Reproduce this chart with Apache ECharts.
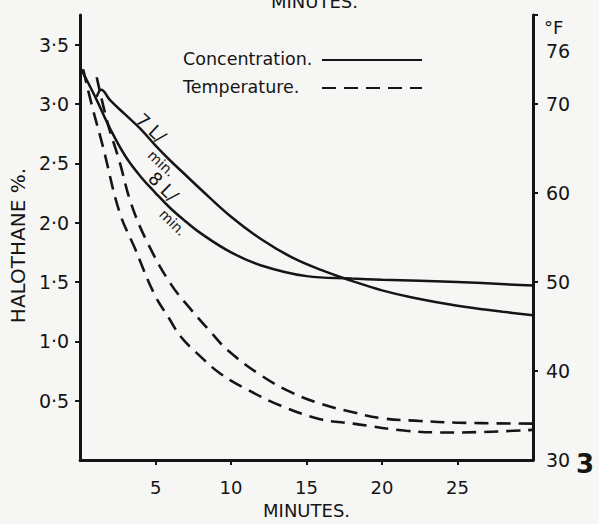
<!DOCTYPE html>
<html>
<head>
<meta charset="utf-8">
<script src="https://cdn.jsdelivr.net/npm/echarts@6/dist/echarts.min.js"></script>
<style>
  html, body { margin: 0; padding: 0; background: #f6f6f4; }
  #chart { width: 599px; height: 524px; }
</style>
</head>
<body>
<div id="chart"></div>
<script>
// halothane concentration, 7 L/min
var minutes7 = [1.1, 1.4, 2, 3, 4, 5, 6, 7, 8, 10, 12, 14, 16, 18, 20, 22, 25, 28, 30];
var halothane7 = [3.06, 3.12, 3.03, 2.91, 2.79, 2.65, 2.52, 2.40, 2.28, 2.05, 1.86, 1.71, 1.60, 1.51, 1.43, 1.37, 1.30, 1.25, 1.22];
// halothane concentration, 8 L/min
var minutes8 = [0, 1, 2, 3, 4, 5, 6, 7, 8, 10, 12, 15, 18, 20, 25, 30];
var halothane8 = [3.31, 3.06, 2.79, 2.56, 2.39, 2.25, 2.12, 2.01, 1.91, 1.75, 1.64, 1.55, 1.53, 1.52, 1.50, 1.47];
// temperature (deg F), upper dashed curve
var minutesTempA = [1.1, 1.8, 2.6, 3.4, 4.5, 6, 7.4, 8.7, 9.8, 12, 14, 16, 18, 20, 22.5, 25, 30];
var tempA = [73.0, 68.0, 63.6, 58.7, 54.3, 49.8, 46.8, 44.3, 42.3, 39.5, 37.6, 36.3, 35.4, 34.7, 34.4, 34.2, 34.1];
// temperature (deg F), lower dashed curve
var minutesTempB = [0.2, 0.8, 1.5, 2.6, 3.6, 4.9, 5.9, 6.7, 8, 9.3, 11.1, 13.3, 15.9, 18.1, 21.6, 24.7, 30];
var tempB = [73.9, 69.7, 65.3, 57.9, 53.9, 48.7, 45.9, 43.8, 41.6, 39.7, 37.9, 36.1, 34.6, 34.1, 33.3, 33.1, 33.4];

var xTicks = [5, 10, 15, 20, 25];
var leftTicks = [0.5, 1, 1.5, 2, 2.5, 3, 3.5];
var rightLabels = [30, 40, 50, 60, 70, 76];
var rightTicks = [40, 50, 60, 70, 80];
var legendNames = ['Concentration.', 'Temperature.'];

var ink = '#151515';
var font = 'DejaVu Sans';

var pairs = function (xs, ys) {
  var out = [];
  for (var i = 0; i < xs.length; i++) out.push([xs[i], ys[i]]);
  return out;
};

var myChart = echarts.init(document.getElementById('chart'), null, { renderer: 'svg' });
var solid = { color: ink, width: 2.5, type: 'solid' };
var dashed = { color: ink, width: 2.6, type: [14, 8] };

// "7 L/min." style note written along a curve
var flowLabel = function (num, x, y, rot) {
  return {
    type: 'group', x: x, y: y, rotation: rot,
    children: [{
      type: 'text', x: -30, y: 0,
      style: { text: num + ' L/', fontFamily: font, fontSize: 18, fill: ink, verticalAlign: 'middle' }
    }, {
      type: 'text', x: 3, y: 19,
      style: { text: 'min.', fontFamily: font, fontSize: 14, fill: ink, verticalAlign: 'middle' }
    }]
  };
};

var option = {
  backgroundColor: '#f6f6f4',
  animation: false,
  title: {
    text: 'MINUTES.',
    left: 266, top: -13,
    textStyle: { fontFamily: font, fontSize: 18, fontWeight: 'normal', color: ink }
  },
  legend: {
    orient: 'vertical',
    left: 321, top: 55, padding: 0,
    itemWidth: 100, itemHeight: 10, itemGap: 19,
    itemStyle: { opacity: 0 },
    formatter: function () { return ''; },
    data: legendNames
  },
  grid: { left: 79, right: 66, top: 15, bottom: 56 },
  xAxis: {
    type: 'value', min: 0, max: 30,
    name: 'MINUTES.', nameLocation: 'middle', nameGap: 38,
    nameTextStyle: { fontFamily: font, fontSize: 18, color: ink },
    axisLine: { lineStyle: { color: ink, width: 3 } },
    axisTick: { customValues: xTicks, length: 5, lineStyle: { color: ink, width: 2 } },
    axisLabel: { customValues: xTicks, margin: 18, fontFamily: font, fontSize: 18, color: ink },
    splitLine: { show: false }
  },
  yAxis: [{
    type: 'value', min: 0, max: 3.75, position: 'left',
    name: 'HALOTHANE %.', nameLocation: 'middle', nameGap: 48,
    nameTextStyle: { fontFamily: font, fontSize: 20, color: ink, padding: [0, 16, 0, 0] },
    axisLine: { show: true, lineStyle: { color: ink, width: 3 } },
    axisTick: { show: true, customValues: leftTicks, length: 5, lineStyle: { color: ink, width: 2 } },
    axisLabel: {
      customValues: leftTicks, margin: 11, fontFamily: font, fontSize: 19, color: ink,
      formatter: function (v) { return v.toFixed(1).replace('.', '\u00b7'); }
    },
    splitLine: { show: false }
  }, {
    type: 'value', min: 30, max: 80, position: 'right',
    name: '\u00b0F', nameLocation: 'end', nameGap: -3,
    nameTextStyle: { fontFamily: font, fontSize: 18, color: ink, align: 'left', verticalAlign: 'top', padding: [0, 0, 0, 11] },
    axisLine: { show: true, lineStyle: { color: ink, width: 3 } },
    axisTick: { show: true, customValues: rightTicks, length: 5, lineStyle: { color: ink, width: 2 } },
    axisLabel: { customValues: rightLabels, margin: 13, fontFamily: font, fontSize: 19, color: ink },
    splitLine: { show: false }
  }],
  series: [{
    name: 'Concentration.', type: 'line', yAxisIndex: 0, smooth: 0.4, symbol: 'none',
    lineStyle: solid, itemStyle: { color: ink }, data: pairs(minutes7, halothane7)
  }, {
    name: 'Concentration.', type: 'line', yAxisIndex: 0, smooth: 0.4, symbol: 'none',
    lineStyle: solid, itemStyle: { color: ink }, data: pairs(minutes8, halothane8)
  }, {
    name: 'Temperature.', type: 'line', yAxisIndex: 1, smooth: 0.4, symbol: 'none',
    lineStyle: dashed, itemStyle: { color: ink }, data: pairs(minutesTempA, tempA)
  }, {
    name: 'Temperature.', type: 'line', yAxisIndex: 1, smooth: 0.4, symbol: 'none',
    lineStyle: dashed, itemStyle: { color: ink }, data: pairs(minutesTempB, tempB)
  }],
  graphic: [
    {
      type: 'text', x: 183, y: 59,
      style: { text: legendNames[0], fontFamily: font, fontSize: 17.5, fill: ink, verticalAlign: 'middle' }
    },
    {
      type: 'text', x: 183, y: 87,
      style: { text: legendNames[1], fontFamily: font, fontSize: 17.5, fill: ink, verticalAlign: 'middle' }
    },
    flowLabel('7', 161, 137, -0.75),
    flowLabel('8', 173, 196, -0.78),
    {
      type: 'text', x: 576, y: 451,
      style: { text: '3', fontFamily: font, fontSize: 26, fontWeight: 'bold', fill: ink }
    }
  ]
};
myChart.setOption(option);
</script>
</body>
</html>
